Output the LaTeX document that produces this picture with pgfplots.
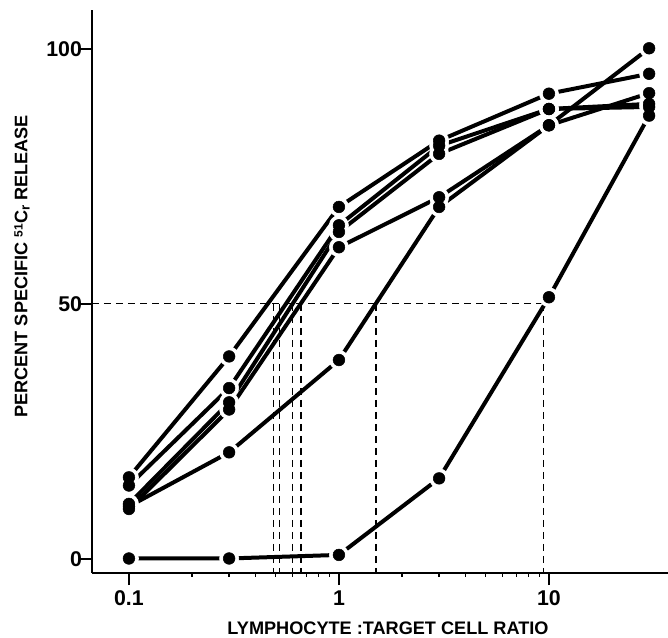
\documentclass[border=0pt]{standalone}
\usepackage{fontspec}
\setmainfont{Liberation Sans}
\usepackage{pgfplots}
\usepackage{pgfplotstable}
\pgfplotsset{compat=1.18}
\usetikzlibrary{calc}

% percent specific release, one table per effector population
\pgfplotstableread{
x y
0.1 16.0
0.3 39.7
1 69.0
3 82.0
10 91.2
30 95.1
}\serA
\pgfplotstableread{
x y
0.1 14.4
0.3 33.5
1 65.4
3 81.0
10 88.2
30 89.2
}\serB
\pgfplotstableread{
x y
0.1 10.8
0.3 30.7
1 64.1
3 79.4
10 88.2
30 88.6
}\serC
\pgfplotstableread{
x y
0.1 9.8
0.3 29.3
1 61.1
3 70.9
10 85.0
30 100.1
}\serD
\pgfplotstableread{
x y
0.1 10.3
0.3 20.9
1 39.0
3 69.0
10 85.0
30 91.3
}\serE
\pgfplotstableread{
x y
0.1 0.1
0.3 0.1
1 0.8
3 15.8
10 51.3
30 86.9
}\serF

\pgfplotsset{
  curve/.style={black, line width=3pt, no marks},
  halo/.style={only marks, mark=*, mark size=7.2pt, white},
  dot/.style={only marks, mark=*, mark size=4.4pt, black},
  ref/.style={black, line width=0.9pt, dash pattern=on 5.5pt off 3.5pt},
}

\begin{document}
\begin{tikzpicture}[font=\fontsize{13.6}{16}\selectfont\bfseries]
\begin{axis}[
  xmode=log,
  scale only axis,
  width=432pt, height=422.25pt,
  xmin=0.0667, xmax=36.9,
  ymin=-2.75, ymax=107.6,
  axis lines=left,
  axis line style={-, line width=1.1pt},
  xtick={0.1,1,10}, xticklabels={0.1,1,10},
  ytick={0,50,100},
  minor xtick={},
  tick style={black, line width=1.1pt},
  xtick align=outside, ytick align=outside,
  major tick length=9pt,
  tick label style={font=\fontsize{16}{18}\selectfont\bfseries},
  /pgf/number format/assume math mode=true,
  xticklabel style={yshift=-1pt},
  yticklabel style={xshift=5pt},
  clip=false,
]
  % 50 % release reference lines
  \addplot[ref] coordinates {(0.0667,50) (9.4,50)};
  \addplot[ref] coordinates {(0.49,50) (0.49,-2.75)};
  \addplot[ref] coordinates {(0.52,50) (0.52,-2.75)};
  \addplot[ref] coordinates {(0.60,50) (0.60,-2.75)};
  \addplot[ref] coordinates {(0.66,50) (0.66,-2.75)};
  \addplot[ref] coordinates {(1.50,50) (1.50,-2.75)};
  \addplot[ref] coordinates {(9.4,50) (9.4,-2.75)};

  % curves
  \addplot[curve] table {\serA};
  \addplot[curve] table {\serB};
  \addplot[curve] table {\serC};
  \addplot[curve] table {\serD};
  \addplot[curve] table {\serE};
  \addplot[curve] table {\serF};
  % white halo so lines stop short of the dots
  \addplot[halo] table {\serA};
  \addplot[halo] table {\serB};
  \addplot[halo] table {\serC};
  \addplot[halo] table {\serD};
  \addplot[halo] table {\serE};
  \addplot[halo] table {\serF};
  \addplot[dot] table {\serA};
  \addplot[dot] table {\serB};
  \addplot[dot] table {\serC};
  \addplot[dot] table {\serD};
  \addplot[dot] table {\serE};
  \addplot[dot] table {\serF};

  \coordinate (bl) at (rel axis cs:0,0);
  \coordinate (tr) at (rel axis cs:1,1);
\end{axis}
\node[rotate=90] at ($(bl)+(-52.5pt,230pt)$)
  {PERCENT SPECIFIC \raisebox{0.5ex}{\fontsize{9}{10}\selectfont 51}C\raisebox{-0.25ex}{\fontsize{10}{10}\selectfont r} RELEASE};
\node at ($(bl)+(222pt,-41.5pt)$) {LYMPHOCYTE :TARGET CELL RATIO};
\pgfresetboundingbox
\path[use as bounding box] ($(bl)+(-69pt,-48pt)$) rectangle ($(tr)+(0pt,7.5pt)$);
\end{tikzpicture}
\end{document}
